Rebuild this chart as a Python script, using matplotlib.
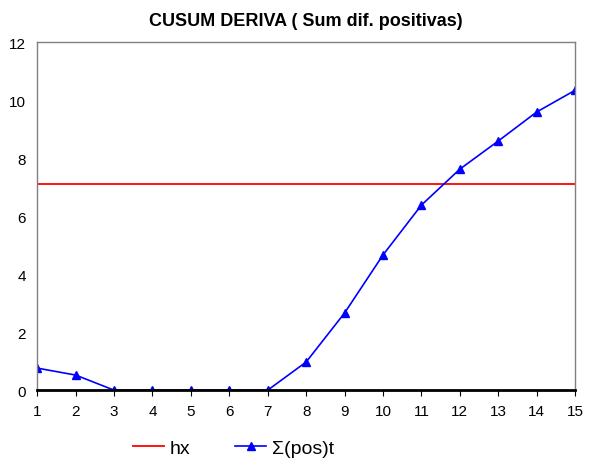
import matplotlib.pyplot as plt

plt.rcParams['font.family'] = ['Liberation Sans Narrow', 'Liberation Sans', 'DejaVu Sans']

periods = list(range(1, 16))
pos_sum = [0.76, 0.52, 0.0, 0.0, 0.0, 0.0, 0.0, 0.97, 2.66, 4.66, 6.38, 7.62, 8.59, 9.59, 10.34]
hx = 7.1

fig = plt.figure(figsize=(5.91, 4.64), dpi=100)
ax = fig.add_axes([0.063, 0.157, 0.91, 0.750])

ax.plot(periods, [hx] * len(periods), color='red', lw=1.3, label='hx')
ax.plot(periods, pos_sum, color='blue', lw=1.2, marker='^', markersize=6, label='Σ(pos)t')

ax.set_xlim(1, 15)
ax.set_ylim(0, 12)
ax.set_xticks(periods)
ax.set_yticks(range(0, 13, 2))
ax.tick_params(axis='y', length=0, labelsize=11, pad=8)
ax.tick_params(axis='x', length=4, direction='out', labelsize=11, pad=6)

for s in ['left', 'top', 'right']:
    ax.spines[s].set_color('gray')
    ax.spines[s].set_linewidth(1)
ax.spines['bottom'].set_color('black')
ax.spines['bottom'].set_linewidth(2)

ax.set_title('CUSUM DERIVA ( Sum dif. positivas)', fontsize=13, fontweight='bold', pad=12)

fig.legend(loc='lower center', bbox_to_anchor=(0.395, -0.025), ncol=2, frameon=False,
           fontsize=14, handlelength=1.6, handletextpad=0.3, columnspacing=2.3)

fig.savefig('out.png')
